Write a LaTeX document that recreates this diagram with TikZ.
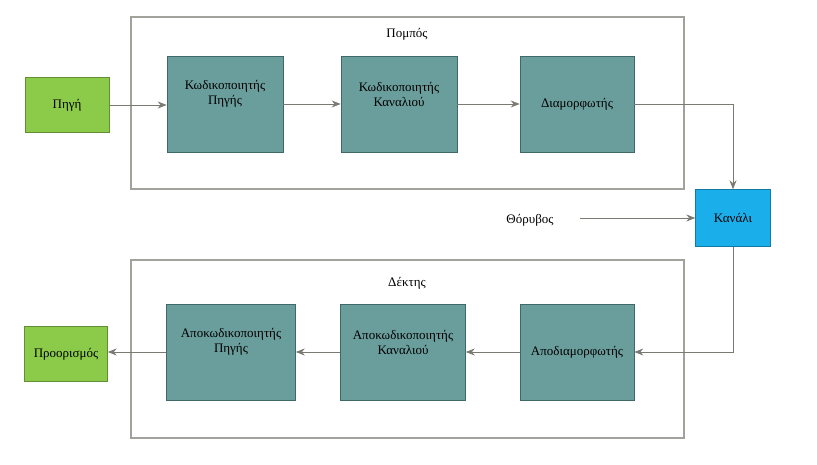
\documentclass[tikz,border=0pt]{standalone}
\usepackage{fontspec}
\setmainfont{Liberation Serif}
\usetikzlibrary{arrows.meta}
\definecolor{teal1}{HTML}{6A9E9C}
\definecolor{teal2}{HTML}{4F8381}
\definecolor{grn}{HTML}{8CCB4A}
\definecolor{blu}{HTML}{1AAEEA}
\definecolor{ln}{HTML}{7A7A72}
\begin{document}
\begin{tikzpicture}[x=1pt,y=-1pt,font=\fontsize{13}{15}\selectfont,
  frame/.style={draw=ln!70,line width=1.2pt,fill=none},
  tbox/.style={draw=teal2!80!black,fill=teal1,line width=0.6pt,minimum width=#1,minimum height=96,align=center,inner sep=0},
  gbox/.style={draw=grn!70!black,fill=grn,minimum width=84,minimum height=55,inner sep=0},
  arr/.style={draw=ln,line width=0.8pt,-{Stealth[length=9pt,width=7pt]}}]
\useasboundingbox (0,0) rectangle (817,465);
\fill[white] (0,0) rectangle (817,465);
\draw[frame] (131,17) rectangle (684,189);
\draw[frame] (131,260) rectangle (684,438);
\node at (407,34) {Πομπός};
\node at (407,283) {Δέκτης};
\node[gbox] (src) at (67,105) {Πηγή};
\node[tbox=116] (ks) at (225,104) {};
\node at (225,104) [yshift=10pt,align=center] {Κωδικοποιητής\\Πηγής};
\node[tbox=116] (kk) at (399,104) {};
\node at (399,104) [yshift=10pt,align=center] {Κωδικοποιητής\\Καναλιού};
\node[tbox=114] (mod) at (577,104) {};
\node at (577,104) {Διαμορφωτής};
\node[draw=blu!70!black,fill=blu,minimum width=75,minimum height=57,inner sep=0] (ch) at (733,218) {Κανάλι};
\node (noise) at (530,220) {Θόρυβος};
\coordinate (nz) at (580,218);
\node[tbox=114] (dem) at (577,352) {};
\node at (577,352) {Αποδιαμορφωτής};
\node[tbox=125] (dk) at (403,352) {};
\node at (403,352) [yshift=10pt,align=center] {Αποκωδικοποιητής\\Καναλιού};
\node[tbox=129] (ds) at (231,352) {};
\node at (231,352) [yshift=10pt,align=center] {Αποκωδικοποιητής\\Πηγής};
\node[gbox,minimum width=83] (dst) at (66,354) {Προορισμός};
\draw[arr] (src.east) -- (src.east -| ks.west);
\draw[arr] (ks) -- (kk);
\draw[arr] (kk) -- (mod);
\draw[arr] (mod.east) -| (ch.north);
\draw[arr] (nz) -- (ch.west);
\draw[arr] (ch.south) |- (dem.east);
\draw[arr] (dem) -- (dk);
\draw[arr] (dk) -- (ds);
\draw[arr] (ds.west) -- (ds.west -| dst.east);
\end{tikzpicture}
\end{document}
